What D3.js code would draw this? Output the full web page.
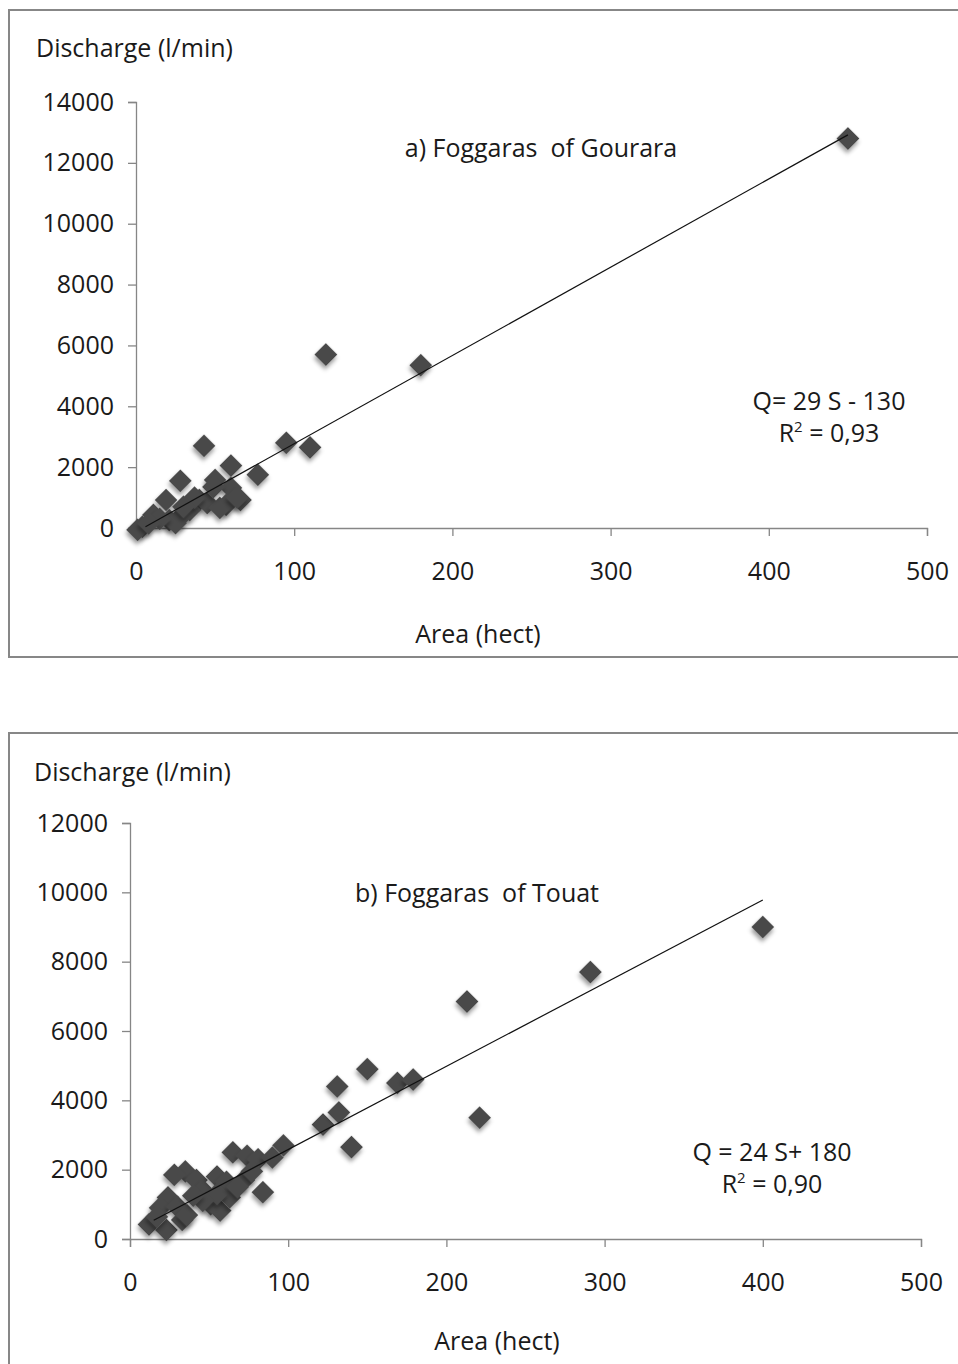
<!DOCTYPE html>
<html>
<head>
<meta charset="utf-8">
<script src="https://cdn.jsdelivr.net/npm/d3@7"></script>
<style>
  body { margin: 0; background: #fff; }
  svg { display: block; font-family: "Open Sans", sans-serif; }
  svg text { white-space: pre; }
  .axis path, .axis line { stroke: #868686; }
  .axis text { fill: #1a1a1a; font-size: 25px; font-family: "Open Sans", sans-serif; }
</style>
</head>
<body>
<div id="chart"></div>
<script>
// a) Foggaras of Gourara : [area (hect), discharge (l/min)]
const gouraraPoints = [
  [450, 12800], [120, 5700], [180, 5350], [95, 2800], [110, 2650],
  [43, 2700], [60, 2050], [77, 1750], [28, 1550], [50, 1580],
  [19, 920], [40, 920], [60, 1320], [66, 920], [57, 760],
  [45, 820], [34, 590], [11, 430], [21, 260], [28, 360],
  [53, 660], [4, 40], [1, -60], [64, 1000], [25, 160],
  [37, 1000], [49, 1350], [30, 700], [15, 300], [8, 150]
];
// b) Foggaras of Touat
const touatPoints = [
  [400, 9000], [291, 7700], [213, 6850], [221, 3500], [150, 4900],
  [131, 4400], [169, 4500], [179, 4600], [140, 2650], [122, 3300],
  [132, 3650], [97, 2700], [84, 1350], [65, 2500], [74, 2400],
  [81, 2300], [90, 2350], [35, 1950], [28, 1850], [42, 1700],
  [46, 1400], [55, 1800], [61, 1650], [72, 1700], [77, 1950],
  [24, 1200], [19, 900], [30, 930], [12, 420], [23, 260],
  [33, 550], [51, 1000], [57, 820], [63, 1200], [55, 1300],
  [46, 1100], [17, 640], [36, 690], [68, 1500], [40, 1250]
];

const xTicks = [0, 100, 200, 300, 400, 500];
const yTicksA = [0, 2000, 4000, 6000, 8000, 10000, 12000, 14000];
const yTicksB = [0, 2000, 4000, 6000, 8000, 10000, 12000];

// regression: slope, intercept, x-range
const fitA = { slope: 29, intercept: -130, from: 6, to: 450 };
const fitB = { slope: 24, intercept: 180, from: 15, to: 400 };

const panels = [
  {
    points: gouraraPoints, fit: fitA, yTicks: yTicksA, yMax: 14000,
    frame: [9, 10, 960, 657],
    xr: [136, 927], yr: [528, 102],
    ylab: [36, 57], title: "a) Foggaras  of Gourara", titlePos: [541, 157],
    eq: ["Q= 29 S - 130", "0,93"], eqPos: [829, 410], xlab: [478, 643]
  },
  {
    points: touatPoints, fit: fitB, yTicks: yTicksB, yMax: 12000,
    frame: [9, 733, 960, 1380],
    xr: [130, 921], yr: [1239, 823],
    ylab: [34, 781], title: "b) Foggaras  of Touat", titlePos: [477, 902],
    eq: ["Q = 24 S+ 180", "0,90"], eqPos: [772, 1161], xlab: [497, 1350]
  }
];

const svg = d3.select("#chart").append("svg")
  .attr("width", 958).attr("height", 1364);

const defs = svg.append("defs");
const f = defs.append("filter").attr("id", "shadow")
  .attr("x", "-50%").attr("y", "-50%").attr("width", "200%").attr("height", "200%");
f.append("feDropShadow").attr("dx", 2).attr("dy", 3).attr("stdDeviation", 2.2)
  .attr("flood-color", "#000").attr("flood-opacity", 0.4);

const diamond = d3.symbol().type(d3.symbolSquare).size(260);

panels.forEach((p) => {
  const g = svg.append("g");
  const [fx0, fy0, fx1, fy1] = p.frame;
  g.append("rect")
    .attr("x", fx0).attr("y", fy0)
    .attr("width", fx1 - fx0).attr("height", fy1 - fy0)
    .attr("fill", "none").attr("stroke", "#878787").attr("stroke-width", 2);

  const x = d3.scaleLinear().domain([0, 500]).range(p.xr);
  const y = d3.scaleLinear().domain([0, p.yMax]).range(p.yr);

  // x axis
  g.append("g").attr("class", "axis")
    .attr("transform", `translate(0,${p.yr[0]})`)
    .call(d3.axisBottom(x).tickValues(xTicks).tickSizeOuter(0).tickSize(8).tickPadding(26)
      .tickFormat(d3.format("d")))
    .call((a) => a.select(".domain").attr("stroke-width", 1.3))
    .call((a) => a.selectAll(".tick line").attr("stroke-width", 1.3));

  // y axis
  g.append("g").attr("class", "axis")
    .attr("transform", `translate(${p.xr[0]},0)`)
    .call(d3.axisLeft(y).tickValues(p.yTicks).tickSizeOuter(0).tickSize(8).tickPadding(14)
      .tickFormat(d3.format("d")))
    .call((a) => a.select(".domain").attr("stroke-width", 1.3))
    .call((a) => a.selectAll(".tick line").attr("stroke-width", 1.3));

  // markers
  g.append("g").selectAll("path")
    .data(p.points)
    .join("path")
    .attr("d", diamond)
    .attr("transform", (d) => `translate(${x(d[0])},${y(d[1])}) rotate(45)`)
    .attr("fill", "#4a4a4a")
    .attr("filter", "url(#shadow)");

  // trend line
  const fit = p.fit;
  const line = d3.line().x((d) => x(d)).y((d) => y(fit.slope * d + fit.intercept));
  g.append("path")
    .attr("d", line([fit.from, fit.to]))
    .attr("fill", "none").attr("stroke", "#111").attr("stroke-width", 1.2);

  // texts
  const fs = 25;
  g.append("text").attr("x", p.ylab[0]).attr("y", p.ylab[1])
    .attr("font-size", fs).attr("fill", "#1a1a1a").text("Discharge (l/min)");
  g.append("text").attr("x", p.titlePos[0]).attr("y", p.titlePos[1])
    .attr("text-anchor", "middle").attr("font-size", fs).attr("fill", "#1a1a1a").text(p.title);
  g.append("text").attr("x", p.eqPos[0]).attr("y", p.eqPos[1])
    .attr("text-anchor", "middle").attr("font-size", fs).attr("fill", "#1a1a1a").text(p.eq[0]);
  const r2 = g.append("text").attr("x", p.eqPos[0]).attr("y", p.eqPos[1] + 32)
    .attr("text-anchor", "middle").attr("font-size", fs).attr("fill", "#1a1a1a");
  r2.append("tspan").text("R");
  r2.append("tspan").attr("font-size", 15).attr("dy", -10).text("2");
  r2.append("tspan").attr("dy", 10).text(" = " + p.eq[1]);
  g.append("text").attr("x", p.xlab[0]).attr("y", p.xlab[1])
    .attr("text-anchor", "middle").attr("font-size", fs).attr("fill", "#1a1a1a").text("Area (hect)");
});
</script>
</body>
</html>
